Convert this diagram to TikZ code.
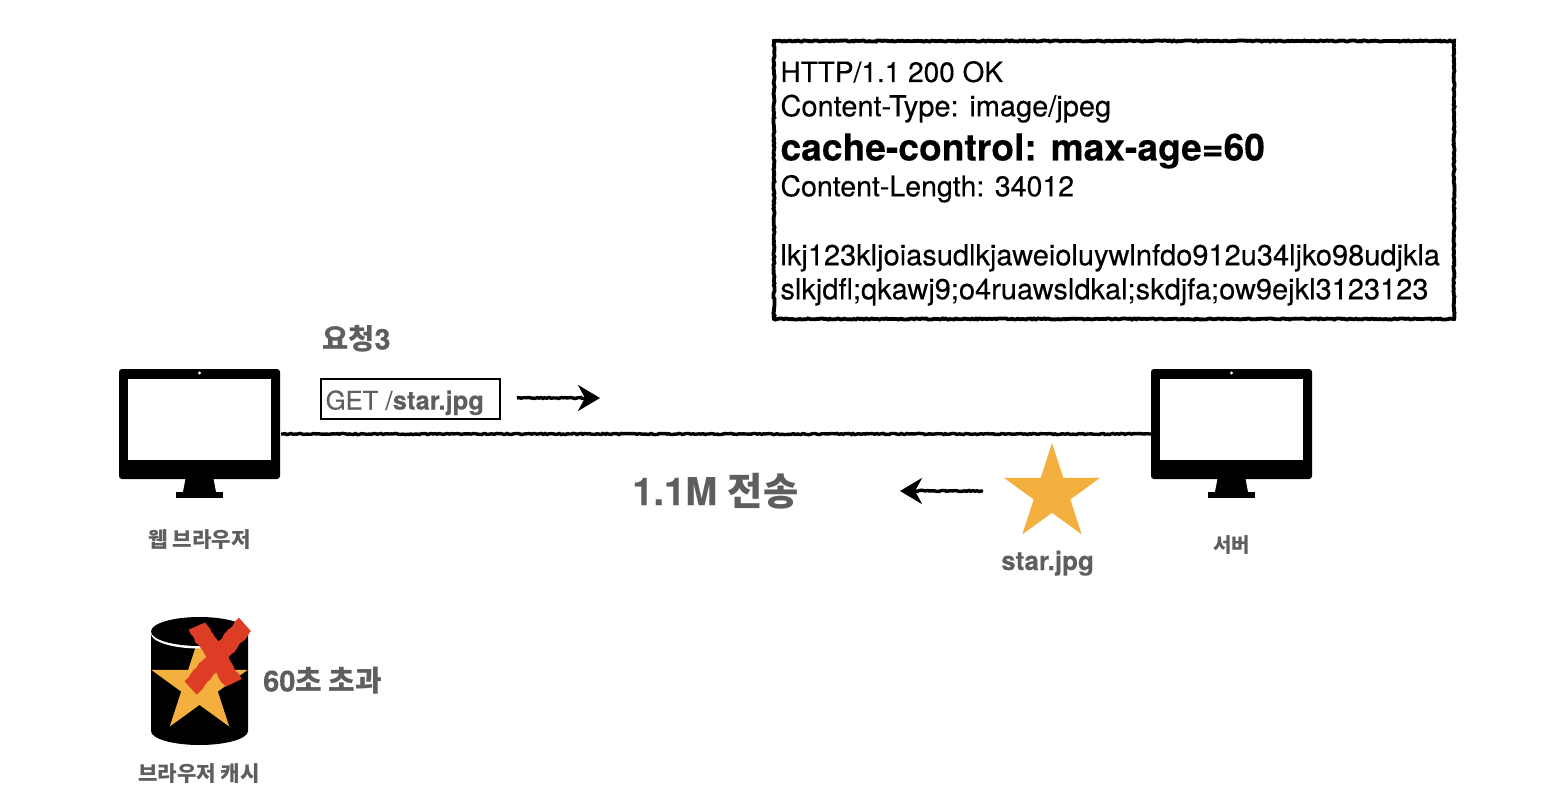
\documentclass[tikz,border=0pt]{standalone}
\usepackage{fontspec}
\setmainfont[FakeBold=0.25]{TeX Gyre Heros}
\newfontfamily\kr{Noto Sans CJK KR}
\usetikzlibrary{shapes.geometric,arrows.meta,decorations.pathmorphing,calc}
\definecolor{txtgray}{HTML}{5E5E5E}
\definecolor{starorange}{HTML}{F4B03F}
\definecolor{xred}{HTML}{DC3D24}
\newcommand{\fs}[1]{\fontsize{#1}{#1}\selectfont}
\tikzset{
  rough/.style={decorate,decoration={random steps,segment length=2pt,amplitude=0.6pt}},
  screenbody/.style={fill=black,rounded corners=3pt,minimum width=161pt,minimum height=110pt,inner sep=0pt},
  screenface/.style={fill=white,minimum width=143pt,minimum height=81pt,inner sep=0pt},
  starshape/.style={star,star points=5,star point ratio=2.618,minimum size=101pt,inner sep=0pt,fill=starorange},
  label/.style={text=txtgray,inner sep=0pt},
  respline/.style={anchor=base west,inner sep=0pt,text=black},
  hand/.style={line width=3.4pt,rough},
  handarrow/.style={line width=3.4pt,-{Stealth[length=22pt,width=26pt,inset=7pt]},decorate,decoration={random steps,segment length=2pt,amplitude=0.6pt,post length=4pt}},
  xstroke/.style={line width=18pt,draw=xred,decorate,decoration={random steps,segment length=4pt,amplitude=0.9pt}}
}
\newcommand{\monitor}[3]{%
  \node[screenbody] (#1) at (#2,#3) {};
  \node[screenface] (#1face) at (#2,#3-4.5) {};
  \fill[white] (#2,#3-51) circle (1.6pt);
  \fill (#2-14,#3+55) -- (#2+14,#3+55) -- (#2+16.5,#3+68) -- (#2-16.5,#3+68) -- cycle;
  \fill (#2-23.5,#3+68) rectangle (#2+23.5,#3+74);
}
\begin{document}
\begin{tikzpicture}[x=1pt,y=-1pt]
\useasboundingbox (0,0) rectangle (1542,810);
% response box
\node[draw,rough,line width=3.8pt,fill=white,minimum width=680pt,minimum height=278pt,inner sep=0pt] (resp) at (1114,180) {};
\node[respline] (l1) at (780.3,82) {\fs{28}HTTP/1.1 200 OK};
\node[respline] (l2) at (780.3,116.3) {\fs{29}Content-Type: image/jpeg};
\node[respline] (l3) at (780.3,160.5) {\fs{37.2}\bfseries cache-control: max-age=60};
\node[respline] (l4) at (780.3,196.3) {\fs{28.5}Content-Length: 34012};
\node[respline] (l5) at (780.3,265.3) {\fs{29}lkj123kljoiasudlkjaweioluywlnfdo912u34ljko98udjkla};
\node[respline] (l6) at (780.3,299.3) {\fs{29}slkjdfl;qkawj9;o4ruawsldkal;skdjfa;ow9ejkl3123123};
% monitors
\monitor{client}{199.5}{424}
\monitor{server}{1231.5}{424}
\draw[hand] ($(client.east)+(1,10)$) -- ($(server.west)+(0,10)$);
% labels
\node[label,anchor=base west] (req) at (322,349.5) {\fs{28.5}\bfseries{\kr 요청}3};
\node[draw,line width=1.5pt,minimum width=179pt,minimum height=40pt,inner sep=0pt] (getbox) at (410.5,399) {};
\node[label,anchor=base west] (get) at (325.5,409.5) {\fs{25.6}GET /\textbf{star.jpg}};
\coordinate (a1s) at (517,398);
\coordinate (a1e) at (600,398);
\draw[handarrow] (a1s) -- (a1e);
\node[label,anchor=base west] (size) at (632,505) {\fs{38.3}\bfseries 1.1M {\kr 전송}};
\coordinate (a2s) at (983,491);
\coordinate (a2e) at (900,491);
\draw[handarrow] (a2s) -- (a2e);
\node[starshape] (srvstar) at (1052,493.5) {};
\node[label,anchor=base] (starlabel) at (1047.5,570) {\fs{26}\bfseries star.jpg};
\node[label,anchor=base] (srvlabel) at (1231.5,552) {\kr\fs{20}\bfseries 서버};
\node[label,anchor=base] (cltlabel) at (199.5,547) {\kr\fs{21.2}\bfseries 웹 브라우저};
% cache cylinder
\fill (151,632) -- (151,731) arc[start angle=180,end angle=0,x radius=48.5,y radius=14] -- (248,632) -- cycle;
\node[starshape] (cachestar) at (199.5,685.6) {};
\fill[white] (199.5,633.5) ellipse[x radius=48.5,y radius=15];
\fill (199.5,631.5) ellipse[x radius=48.5,y radius=14.5];
\draw[xstroke] (197,626) -- (233.5,683);
\draw[xstroke] (245,624.5) -- (190.5,688);
\node[label,anchor=base west] (over) at (263,691.5) {\fs{29}\bfseries 60{\kr 초 초과}};
\node[label,anchor=base] (cachelabel) at (199,781) {\kr\fs{21.2}\bfseries 브라우저 캐시};
\end{tikzpicture}
\end{document}
